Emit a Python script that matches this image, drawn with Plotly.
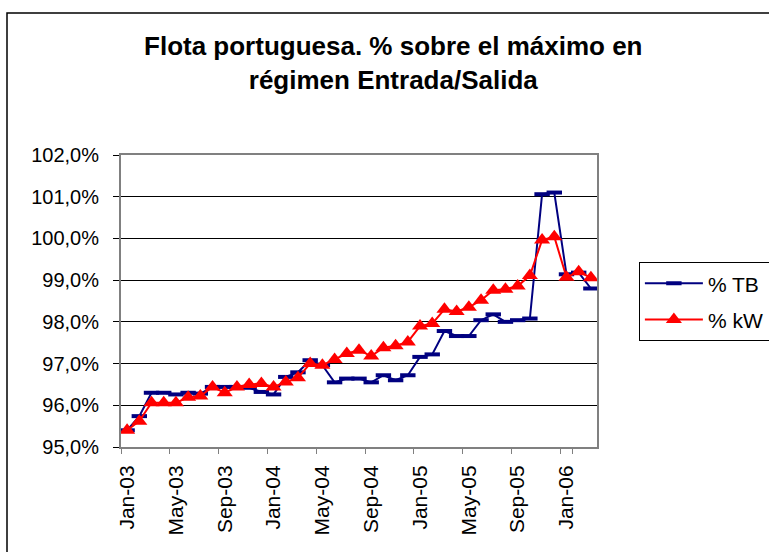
import plotly.graph_objects as go

months = ["Jan-03", "Feb-03", "Mar-03", "Apr-03", "May-03", "Jun-03", "Jul-03", "Aug-03",
          "Sep-03", "Oct-03", "Nov-03", "Dec-03", "Jan-04", "Feb-04", "Mar-04", "Apr-04",
          "May-04", "Jun-04", "Jul-04", "Aug-04", "Sep-04", "Oct-04", "Nov-04", "Dec-04",
          "Jan-05", "Feb-05", "Mar-05", "Apr-05", "May-05", "Jun-05", "Jul-05", "Aug-05",
          "Sep-05", "Oct-05", "Nov-05", "Dec-05", "Jan-06", "Feb-06", "Mar-06"]

pct_tb = [95.40, 95.74, 96.30, 96.30, 96.26, 96.30, 96.28, 96.44, 96.44, 96.44,
          96.42, 96.32, 96.26, 96.68, 96.79, 97.08, 96.96, 96.55, 96.64, 96.64,
          96.55, 96.72, 96.60, 96.72, 97.16, 97.22, 97.78, 97.66, 97.66, 98.04,
          98.18, 98.00, 98.04, 98.08, 101.06, 101.10, 99.14, 99.18, 98.80]

pct_kw = [95.40, 95.62, 96.06, 96.06, 96.06, 96.19, 96.22, 96.44, 96.30, 96.44,
          96.50, 96.52, 96.44, 96.56, 96.66, 97.00, 96.96, 97.10, 97.24, 97.32,
          97.18, 97.38, 97.43, 97.52, 97.90, 97.96, 98.30, 98.25, 98.35, 98.52,
          98.76, 98.78, 98.86, 99.11, 99.96, 100.04, 99.07, 99.20, 99.06]

label_months = months[::4]
y_ticks = [95, 96, 97, 98, 99, 100, 101, 102]
y_tick_text = ["95,0%", "96,0%", "97,0%", "98,0%", "99,0%", "100,0%", "101,0%", "102,0%"]

fig = go.Figure()
fig.add_trace(go.Scatter(
    x=months, y=pct_tb, name="% TB", mode="lines+markers", legendgroup="tb",
    line=dict(color="#000080", width=2),
    marker=dict(symbol="line-ew", size=11, line=dict(color="#000080", width=4), color="#000080"),
))
fig.add_trace(go.Scatter(
    x=months, y=pct_kw, name="% kW", mode="lines+markers", legendgroup="kw",
    line=dict(color="#FF0000", width=2),
    marker=dict(symbol="triangle-up", size=14, color="#FF0000"),
))

font_family = "Liberation Sans, Arial, sans-serif"

fig.update_layout(
    width=769, height=552,
    margin=dict(l=121, r=172, t=155, b=105, autoexpand=False),
    paper_bgcolor="white", plot_bgcolor="white",
    font=dict(family=font_family, size=20, color="black"),
    title=dict(
        text="<b>Flota portuguesa. % sobre el máximo en<br>régimen Entrada/Salida</b>",
        x=0.572, xref="paper", xanchor="center",
        y=1 - 55 / 552, yref="container", yanchor="middle",
        font=dict(family=font_family, size=26, color="black"),
    ),
    legend=dict(
        x=1.088, xanchor="left", y=0.633, yanchor="top",
        bordercolor="black", borderwidth=1, bgcolor="white",
        font=dict(family=font_family, size=21),
        tracegroupgap=6, itemwidth=58,
    ),
    showlegend=True,
    xaxis=dict(
        type="category", categoryorder="array", categoryarray=months,
        range=[-0.5, len(months) - 0.5],
        tickmode="array", tickvals=label_months, ticktext=label_months,
        tickson="boundaries", ticks="outside", ticklen=5, tickcolor="#808080",
        tickangle=-90, showgrid=False,
        showline=True, linecolor="#808080", linewidth=2, mirror=True,
        tickfont=dict(size=21), ticklabelstandoff=8,
    ),
    yaxis=dict(
        range=[95, 102], tickmode="array", tickvals=y_ticks, ticktext=y_tick_text,
        ticks="outside", ticklen=6, tickcolor="black",
        showgrid=True, gridcolor="black", gridwidth=1,
        showline=True, linecolor="#808080", linewidth=2, mirror=True,
        ticklabelstandoff=10, zeroline=False,
        tickfont=dict(size=20),
    ),
)

# outer chart frame
fig.add_shape(type="rect", xref="paper", yref="paper",
              x0=(7 - 121) / 476, x1=1.6, y0=-0.6, y1=(447 - 13) / 292,
              line=dict(color="black", width=1.5), fillcolor="rgba(0,0,0,0)", layer="below")

fig.write_html("out.html", config={"displayModeBar": False},
               post_script="document.body.style.margin='0px';")
